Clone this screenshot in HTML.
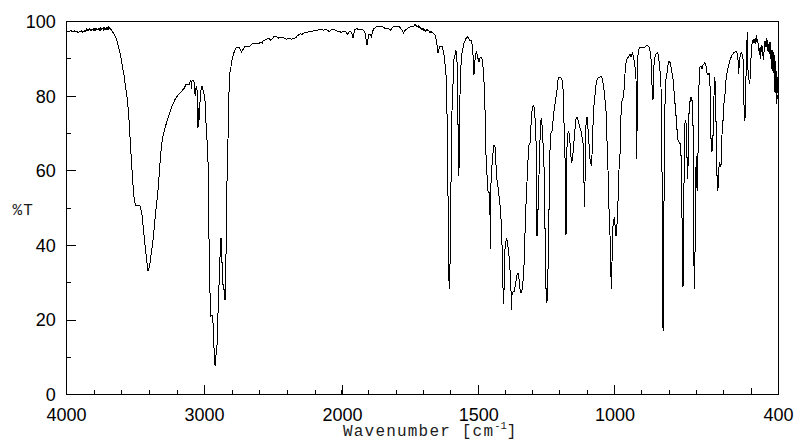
<!DOCTYPE html>
<html lang="en">
<head>
<meta charset="utf-8">
<title>IR Spectrum</title>
<style>
html,body{margin:0;padding:0;background:#fff;}
body{width:800px;height:441px;overflow:hidden;}
svg{display:block;}
.ax{font-family:"Liberation Sans",sans-serif;font-size:18px;fill:#000;}
.mono{font-family:"Liberation Mono",monospace;font-size:16px;letter-spacing:1.2px;fill:#1a1a1a;}
</style>
</head>
<body>
<svg width="800" height="441" viewBox="0 0 800 441">
<rect x="0" y="0" width="800" height="441" fill="#fff"/>
<g fill="none" stroke="#000" stroke-width="1" shape-rendering="crispEdges">
<rect x="66.5" y="21.5" width="712" height="373"/>
<line x1="66.5" y1="394.5" x2="76" y2="394.5"/>
<line x1="66.5" y1="357.5" x2="71" y2="357.5"/>
<line x1="66.5" y1="320.5" x2="76" y2="320.5"/>
<line x1="66.5" y1="282.5" x2="71" y2="282.5"/>
<line x1="66.5" y1="245.5" x2="76" y2="245.5"/>
<line x1="66.5" y1="208.5" x2="71" y2="208.5"/>
<line x1="66.5" y1="170.5" x2="76" y2="170.5"/>
<line x1="66.5" y1="133.5" x2="71" y2="133.5"/>
<line x1="66.5" y1="96.5" x2="76" y2="96.5"/>
<line x1="66.5" y1="58.5" x2="71" y2="58.5"/>
<line x1="66.5" y1="21.5" x2="76" y2="21.5"/>
<line x1="94.5" y1="394.5" x2="94.5" y2="390"/>
<line x1="121.5" y1="394.5" x2="121.5" y2="390"/>
<line x1="149.5" y1="394.5" x2="149.5" y2="390"/>
<line x1="177.5" y1="394.5" x2="177.5" y2="390"/>
<line x1="204.5" y1="394.5" x2="204.5" y2="385"/>
<line x1="232.5" y1="394.5" x2="232.5" y2="390"/>
<line x1="259.5" y1="394.5" x2="259.5" y2="390"/>
<line x1="287.5" y1="394.5" x2="287.5" y2="390"/>
<line x1="315.5" y1="394.5" x2="315.5" y2="390"/>
<line x1="342.5" y1="394.5" x2="342.5" y2="385"/>
<line x1="368.5" y1="394.5" x2="368.5" y2="390"/>
<line x1="396.5" y1="394.5" x2="396.5" y2="390"/>
<line x1="423.5" y1="394.5" x2="423.5" y2="390"/>
<line x1="450.5" y1="394.5" x2="450.5" y2="390"/>
<line x1="478.5" y1="394.5" x2="478.5" y2="385"/>
<line x1="505.5" y1="394.5" x2="505.5" y2="390"/>
<line x1="532.5" y1="394.5" x2="532.5" y2="390"/>
<line x1="559.5" y1="394.5" x2="559.5" y2="390"/>
<line x1="587.5" y1="394.5" x2="587.5" y2="390"/>
<line x1="614.5" y1="394.5" x2="614.5" y2="385"/>
<line x1="641.5" y1="394.5" x2="641.5" y2="390"/>
<line x1="669.5" y1="394.5" x2="669.5" y2="390"/>
<line x1="696.5" y1="394.5" x2="696.5" y2="390"/>
<line x1="723.5" y1="394.5" x2="723.5" y2="390"/>
<line x1="751.5" y1="394.5" x2="751.5" y2="388"/>
<line x1="341.5" y1="394.5" x2="341.5" y2="390"/>
</g>
<polyline fill="none" stroke="#000" stroke-width="1" stroke-linejoin="miter" shape-rendering="crispEdges" points="66.50,31.50 69.90,31.50 70.30,30.50 71.60,30.50 72.00,31.50 73.60,31.50 74.20,30.50 74.80,31.50 77.00,31.50 77.50,32.50 78.80,32.50 79.30,31.50 81.00,31.40 81.50,30.86 82.00,31.20 82.50,31.80 83.00,31.04 83.50,31.80 84.00,32.17 84.50,30.67 85.00,31.00 85.50,31.21 86.00,30.60 86.50,29.59 87.00,30.68 87.50,30.00 88.00,29.09 88.50,30.49 89.50,29.02 90.00,29.80 90.50,30.20 91.00,29.19 91.50,30.14 92.00,28.93 92.50,29.60 92.95,30.22 93.41,29.14 93.86,30.22 94.32,28.92 94.77,30.02 95.23,28.59 95.68,29.84 96.14,28.67 97.05,29.75 97.50,29.20 98.41,28.54 98.86,29.53 99.32,28.67 99.77,29.79 100.23,28.15 100.68,29.68 101.14,28.24 101.59,29.69 102.50,28.80 102.97,28.07 103.44,29.51 103.91,27.87 104.38,29.26 104.84,28.02 105.31,29.33 105.78,28.29 106.25,29.47 106.72,28.19 107.19,29.51 107.66,28.06 108.12,29.49 108.59,27.81 109.06,29.21 109.53,27.78 110.00,28.60 111.25,29.50 113.75,33.60 115.60,36.75 117.50,43.00 119.40,50.50 121.25,59.25 123.10,70.50 124.00,75.00 126.00,90.00 127.60,101.00 129.00,120.00 130.50,145.00 132.00,170.00 133.00,185.00 133.60,195.00 135.00,203.00 136.00,205.40 140.00,205.60 141.00,210.00 142.00,215.00 143.00,225.00 144.00,235.00 145.50,250.00 147.00,263.00 148.00,270.60 149.00,268.00 150.00,263.00 152.00,248.00 153.60,235.00 155.40,215.00 157.60,195.00 159.40,172.00 160.20,160.00 161.60,145.00 162.50,139.00 163.50,134.00 166.00,124.50 169.00,115.00 172.00,106.00 175.00,99.50 178.00,95.00 181.00,92.00 184.00,88.50 186.00,84.50 188.00,84.00 189.00,85.00 190.00,82.00 190.50,80.50 191.00,81.00 191.50,88.50 192.00,81.00 193.00,80.50 193.50,81.00 194.00,82.00 194.50,93.00 195.50,95.00 196.00,88.00 196.50,87.00 197.00,90.00 197.50,100.00 197.70,127.00 198.50,126.00 198.50,108.00 199.50,120.00 199.50,107.00 200.20,100.00 200.50,95.00 201.20,88.00 202.00,86.00 203.00,90.00 204.00,94.00 205.00,101.00 205.50,114.00 207.00,140.00 208.60,175.00 208.50,238.50 209.50,239.50 209.50,292.50 210.50,293.50 210.50,316.00 211.50,315.50 212.50,316.00 212.50,322.50 213.50,323.50 213.50,347.50 214.50,348.50 214.50,364.00 215.50,365.00 215.50,355.50 216.50,354.50 216.50,345.50 217.50,344.50 217.50,313.50 218.50,312.50 218.50,285.50 219.50,284.50 219.50,257.50 220.50,256.50 220.50,238.50 221.50,238.50 221.50,262.50 222.50,263.00 222.50,284.00 223.50,285.00 223.50,289.00 224.50,290.00 224.50,299.50 225.50,299.00 225.50,254.50 226.50,253.50 226.50,182.00 227.40,180.00 228.00,140.00 228.40,103.00 229.60,81.00 230.00,72.50 230.60,70.00 231.50,62.50 232.50,57.50 234.40,51.25 236.25,47.50 238.35,47.32 239.40,47.50 240.60,50.00 241.50,52.25 242.50,50.00 243.75,48.44 245.00,46.50 246.00,46.19 247.00,46.54 248.00,46.13 249.00,46.64 250.00,46.25 252.50,43.50 253.75,43.48 255.00,44.00 257.20,43.88 259.40,43.10 261.25,42.25 262.25,43.50 263.10,40.60 266.25,39.60 267.50,38.83 268.75,38.50 270.60,40.00 272.50,38.75 273.75,36.25 275.00,36.65 276.25,36.50 277.50,37.15 278.75,38.10 280.00,37.85 281.25,37.25 282.50,37.35 283.75,37.75 285.60,39.00 286.70,39.05 287.80,38.53 288.90,38.95 290.00,38.50 291.25,39.40 293.75,38.34 295.00,38.10 296.03,37.37 297.07,35.88 298.10,35.25 300.60,33.50 301.90,34.40 304.40,32.50 305.52,32.17 306.64,32.40 307.76,31.97 310.00,31.90 311.00,31.76 314.00,30.64 315.00,30.60 316.00,30.58 320.00,29.40 321.25,29.39 322.50,29.75 323.75,30.25 325.00,29.50 326.90,29.90 328.75,31.10 330.00,31.10 331.90,29.50 333.15,29.76 334.40,29.50 336.90,31.10 338.75,31.10 341.25,32.40 343.10,31.50 344.35,31.46 345.60,31.75 347.50,34.25 349.40,31.50 350.60,31.50 351.90,33.60 352.50,37.40 353.50,37.40 354.40,29.90 356.90,28.60 358.75,29.90 361.25,29.50 363.75,30.25 365.00,33.00 366.25,40.50 366.90,44.90 367.50,44.90 368.10,38.00 368.75,34.25 370.00,34.00 371.25,36.75 372.50,31.75 373.75,28.60 376.25,27.00 378.75,26.50 381.25,26.88 382.50,26.75 383.75,27.37 385.00,28.42 386.25,29.00 387.50,28.76 388.75,29.00 390.60,30.25 393.10,26.75 394.15,26.96 396.25,26.50 398.35,26.51 399.40,26.75 400.65,28.48 401.90,29.90 403.50,33.00 404.55,31.22 405.60,29.90 408.10,28.00 410.60,26.50 411.65,26.74 413.75,26.50 414.40,24.50 415.02,24.35 415.63,25.97 416.25,26.10 416.88,25.72 417.50,26.29 418.00,27.30 418.50,26.22 419.00,27.63 419.50,26.80 420.00,27.40 420.50,28.52 421.00,27.75 421.50,29.30 422.00,28.39 422.50,29.25 423.00,29.83 423.50,28.86 424.00,30.42 424.50,29.52 425.00,30.25 425.50,30.84 426.00,30.00 426.50,29.73 427.00,30.77 427.50,30.06 428.00,31.05 428.50,30.34 429.00,31.00 429.50,31.77 430.00,30.81 430.50,32.06 431.00,31.10 431.50,32.36 432.00,32.00 435.00,35.00 436.00,39.00 437.00,45.00 438.00,52.60 439.00,49.00 440.00,46.00 442.00,46.00 443.00,50.00 444.00,55.00 445.00,64.00 446.00,75.00 446.60,95.00 447.60,140.00 447.60,195.00 448.50,197.00 448.50,280.50 449.50,281.50 449.50,288.50 449.50,264.50 450.50,263.50 450.50,187.00 451.50,178.00 452.00,111.00 452.60,95.00 454.00,59.00 456.00,50.60 457.00,62.00 457.60,80.00 457.90,105.00 458.30,175.00 459.00,174.00 459.30,103.00 460.00,95.00 461.00,65.00 462.00,53.00 464.00,43.00 466.00,38.60 467.60,36.60 469.60,40.00 471.60,41.00 472.60,49.00 473.40,61.00 474.00,75.00 474.40,65.00 475.60,55.00 476.40,50.60 477.60,57.00 479.00,62.00 480.00,58.00 481.00,57.00 482.40,60.00 483.60,73.00 484.40,91.00 485.00,110.00 485.50,125.00 486.00,155.00 487.00,175.00 488.00,191.00 489.40,193.00 490.00,215.00 490.40,249.00 490.80,215.00 491.00,183.00 492.00,165.00 493.00,153.00 494.00,145.00 495.00,147.00 496.00,165.00 496.80,178.00 498.00,187.00 500.00,205.00 501.00,219.00 502.00,245.00 502.60,263.00 502.90,285.00 503.60,304.00 504.00,291.00 504.60,255.00 505.00,249.00 506.00,241.00 506.60,239.00 507.40,241.00 508.60,252.00 509.60,262.00 510.30,275.00 511.00,291.00 511.60,310.00 512.00,295.00 513.00,292.00 514.40,291.00 515.60,283.00 517.00,275.00 518.00,273.40 519.00,279.00 520.00,289.00 521.00,292.60 522.00,290.00 523.00,281.00 524.00,265.00 524.60,245.00 525.60,217.00 526.30,195.00 527.00,182.00 528.00,160.00 529.00,145.00 530.00,143.00 531.00,125.00 532.00,111.00 532.60,106.50 533.40,105.40 534.00,106.50 534.40,111.00 535.60,125.00 536.40,155.00 536.50,235.50 537.50,235.00 537.50,210.00 538.50,209.00 538.60,195.00 539.00,175.00 539.60,150.00 540.40,130.00 540.80,121.00 541.20,118.60 541.80,121.00 542.40,131.00 543.60,155.00 544.30,175.00 544.50,228.00 545.50,229.00 545.50,288.00 546.50,289.00 546.50,302.50 547.50,300.00 547.50,269.50 548.50,268.50 548.50,210.00 549.50,209.00 549.60,175.00 550.00,150.00 551.00,133.00 552.00,131.00 554.00,111.00 556.00,97.00 557.00,90.00 558.00,80.00 559.00,77.60 561.00,77.60 562.40,81.00 563.20,91.00 563.60,110.00 564.40,135.00 565.20,165.00 565.50,200.00 565.50,234.50 566.50,232.50 566.50,183.00 566.60,155.00 567.60,135.00 568.60,131.00 569.60,135.00 570.40,151.00 571.60,163.00 572.40,160.00 573.00,153.00 574.00,141.00 575.00,129.00 576.00,119.00 577.00,117.40 578.40,121.00 579.60,127.00 581.00,131.00 582.00,137.00 583.00,143.00 583.60,155.00 584.00,183.00 584.40,207.00 585.00,183.00 585.40,145.00 586.00,125.00 587.00,117.40 587.60,123.00 588.40,135.00 589.20,147.00 590.00,159.00 591.40,166.00 592.00,155.00 593.00,125.00 594.00,105.00 595.00,95.00 596.00,85.00 597.00,80.00 598.40,77.40 601.00,76.60 602.40,79.00 603.60,87.00 604.60,95.00 605.40,104.00 606.00,111.00 607.00,141.00 608.00,170.00 608.60,205.00 609.60,215.00 610.00,235.00 610.60,263.00 611.40,289.40 612.00,263.00 612.40,231.00 613.60,221.00 614.40,217.00 615.00,225.00 616.00,236.00 616.60,233.00 617.40,215.00 618.00,201.00 618.80,199.00 619.00,170.00 619.30,161.00 620.00,155.00 620.30,135.00 621.00,115.00 622.00,101.00 623.00,98.00 624.00,90.00 624.50,81.00 625.60,65.00 627.00,59.00 629.00,56.00 630.00,54.00 631.00,57.00 632.00,54.00 632.60,53.00 633.60,57.00 635.00,67.00 636.00,79.00 636.30,103.00 636.50,130.00 636.60,158.60 637.00,135.00 637.20,103.00 637.40,75.00 638.00,55.00 639.00,49.00 640.00,47.40 643.00,47.00 645.00,47.00 647.00,45.00 649.00,47.00 650.00,51.00 651.00,59.00 651.60,75.00 652.40,95.00 653.00,100.00 653.60,85.00 654.00,65.00 655.00,57.00 656.00,54.00 657.40,53.00 658.40,55.00 659.00,61.00 660.00,71.00 661.00,87.00 661.40,135.00 661.50,171.50 662.50,172.50 662.50,327.50 663.50,328.50 663.50,330.50 663.50,201.50 664.50,200.50 664.50,104.50 665.50,103.50 665.60,81.00 667.00,73.00 668.00,65.00 669.00,61.40 670.40,63.00 671.60,70.00 673.00,79.00 674.00,91.00 674.90,103.50 675.60,104.00 676.00,115.50 676.60,117.00 676.60,129.00 677.50,130.00 677.50,139.50 678.60,140.50 679.40,143.00 680.40,144.00 680.50,155.00 681.60,156.00 681.70,200.00 682.40,240.00 683.00,287.00 683.40,240.00 683.50,184.00 684.25,183.00 684.25,126.00 685.40,121.00 686.40,124.00 686.40,157.00 687.40,158.00 687.50,178.50 687.60,166.00 688.40,165.00 688.40,123.00 688.60,114.00 689.50,113.00 689.70,102.00 690.60,101.00 690.90,97.30 691.70,97.30 691.90,100.00 692.50,100.00 692.60,125.00 693.50,126.00 693.60,240.00 694.40,289.40 695.20,240.00 695.50,184.00 695.50,170.00 696.50,165.00 696.50,156.00 696.60,184.00 697.40,191.00 697.50,154.00 698.40,152.00 698.40,95.00 699.00,85.00 700.00,67.00 701.00,66.00 702.00,69.00 703.00,65.00 704.00,64.00 705.00,62.60 706.00,66.00 707.00,73.00 708.00,75.00 709.00,73.00 709.60,79.00 710.30,91.00 710.50,105.00 710.50,138.00 711.40,139.00 711.50,152.00 712.40,150.00 712.50,136.00 713.40,135.50 713.40,97.00 714.00,96.00 714.30,77.00 715.00,81.00 715.60,96.00 715.60,121.00 716.60,122.50 716.60,175.00 717.25,176.00 717.50,191.25 718.10,187.50 718.50,167.50 719.40,166.00 719.60,162.50 720.60,165.60 721.50,163.75 721.70,145.00 722.00,135.00 722.50,121.00 723.40,120.00 723.80,105.00 725.00,94.00 725.50,85.00 726.50,76.00 728.00,68.00 730.00,60.00 732.00,55.00 734.00,52.50 736.00,51.20 737.00,53.00 737.80,58.00 738.30,63.00 738.70,73.50 739.20,65.00 739.80,58.00 740.50,54.00 741.50,52.50 742.50,55.00 743.20,60.00 743.50,70.00 743.60,90.00 743.80,96.00 744.40,120.60 745.25,117.50 745.50,94.00 745.80,76.00 746.50,75.00 746.80,50.00 747.20,32.20 747.80,50.00 748.00,70.00 748.50,75.00 749.00,80.00 749.50,83.50 750.00,80.00 750.50,65.00 751.00,58.00 751.50,52.00 752.30,40.00 753.00,42.50 753.50,41.00 754.00,42.50 754.40,39.00 754.80,42.50 755.20,39.00 755.60,43.50 756.20,35.00 756.70,42.00 757.20,39.00 757.70,42.50 758.20,43.00 758.70,51.00 759.50,48.00 759.80,53.00 760.50,59.00 760.80,49.00 761.30,45.00 761.80,52.00 762.30,46.00 762.70,54.00 763.50,60.00 764.00,52.00 764.20,41.00 764.60,52.00 765.00,41.00 765.50,47.00 766.00,41.00 766.40,38.00 766.70,47.00 767.20,40.00 767.60,51.00 768.00,44.00 768.50,52.00 769.00,44.00 769.50,52.00 770.00,42.00 770.50,51.00 768.30,50.00 772.97,50.50 768.59,51.00 773.31,51.50 768.87,52.00 773.66,52.50 769.16,53.00 774.00,53.50 769.44,54.00 774.34,54.50 769.73,55.00 774.69,55.50 770.01,56.00 775.03,56.50 770.30,57.00 775.23,57.50 770.39,58.00 775.28,58.50 770.48,59.00 775.34,59.50 770.57,60.00 775.39,60.50 770.66,61.00 775.45,61.50 770.75,62.00 775.50,62.50 770.85,63.00 775.55,63.50 770.94,64.00 775.61,64.50 771.03,65.00 775.66,65.50 771.12,66.00 775.72,66.50 771.21,67.00 775.77,67.50 771.30,68.00 775.92,68.50 771.80,69.00 776.17,69.50 772.30,70.00 776.42,70.50 772.80,71.00 776.67,71.50 773.30,72.00 776.87,72.50 773.63,73.00 777.01,73.50 773.97,74.00 777.14,74.50 774.30,75.00 777.28,75.50 774.31,76.00 777.42,76.50 774.32,77.00 777.56,77.50 774.33,78.00 777.69,78.50 774.34,79.00 777.83,79.50 774.36,80.00 777.90,80.50 774.37,81.00 777.90,81.50 774.38,82.00 777.90,82.50 774.39,83.00 777.90,83.50 774.40,84.00 777.90,84.50 774.41,85.00 777.90,85.50 774.42,86.00 777.90,86.50 774.43,87.00 777.90,87.50 774.44,88.00 777.90,88.50 774.46,89.00 777.90,89.50 774.47,90.00 777.90,90.50 774.48,91.00 777.90,91.50 774.49,92.00 777.90,92.50 776.50,93.00 776.50,103.50 777.40,95.50 778.40,95.50"/>
<g class="ax"><text x="55.8" y="401" text-anchor="end">0</text><text x="55.8" y="326.4" text-anchor="end">20</text><text x="55.8" y="251.8" text-anchor="end">40</text><text x="55.8" y="177.2" text-anchor="end">60</text><text x="55.8" y="102.6" text-anchor="end">80</text><text x="55.8" y="28" text-anchor="end">100</text><text x="66.5" y="421.2" text-anchor="middle">4000</text><text x="204.5" y="421.2" text-anchor="middle">3000</text><text x="342.5" y="421.2" text-anchor="middle">2000</text><text x="478.75" y="421.2" text-anchor="middle">1500</text><text x="615" y="421.2" text-anchor="middle">1000</text><text x="778.5" y="421.2" text-anchor="middle">400</text></g>
<text class="mono" x="12.5" y="215.3">%T</text>
<text class="mono" x="343" y="436">Wavenumber [cm<tspan font-size="10.5" letter-spacing="0" dy="-7.5">-1</tspan><tspan dy="7.5">]</tspan></text>
</svg>
</body>
</html>
